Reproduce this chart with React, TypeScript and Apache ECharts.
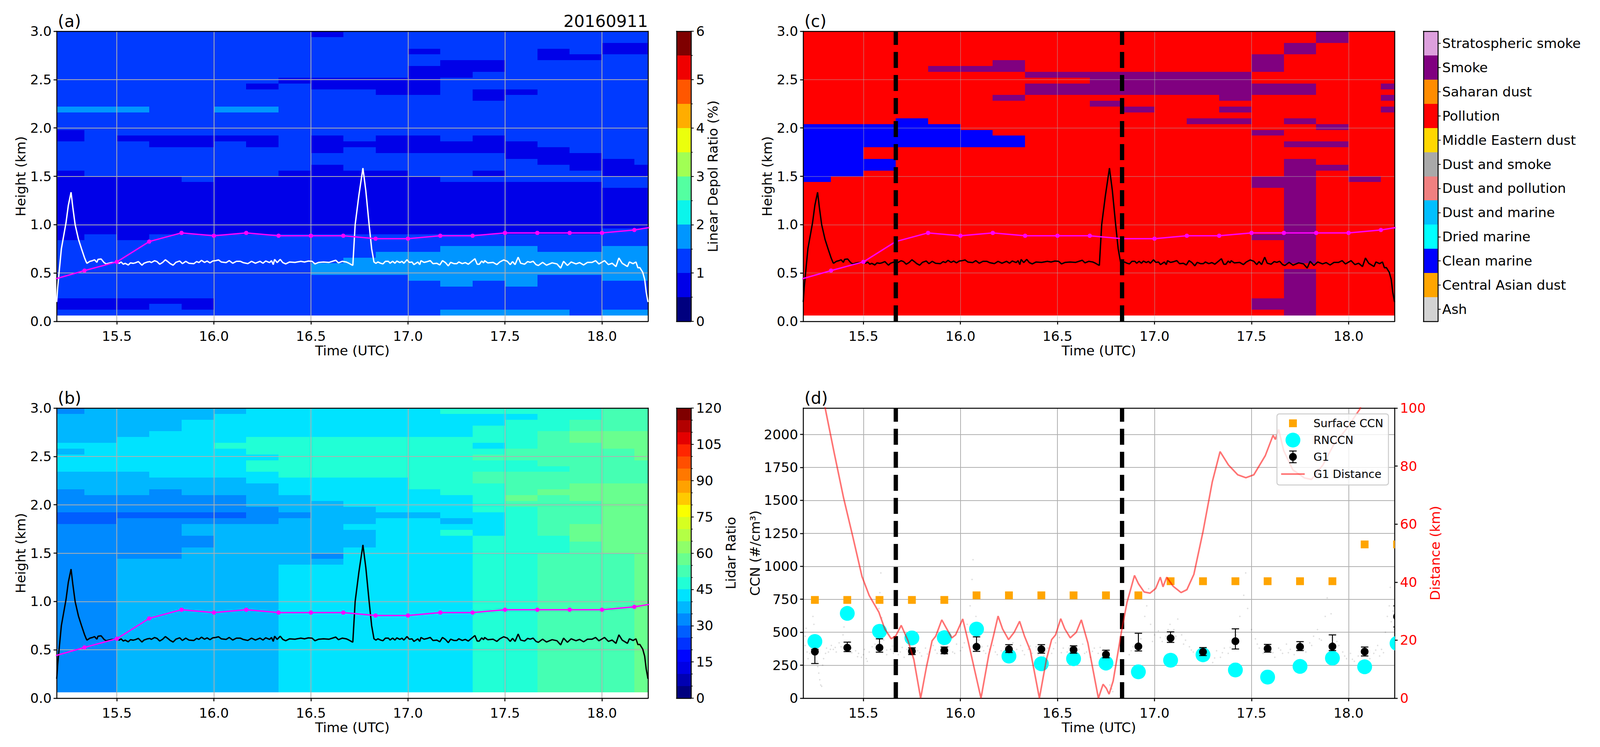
import React, { useEffect, useRef } from "react";
import * as echarts from "echarts";

const FONT = '"DejaVu Sans"';
const rep = (s: string, n: number): string[] => Array(n).fill(s);

// The browser window is 4096 px wide: horizontal layout of the 4205 px reference is fitted to it
const PAGE_W = 4096;
const PAGE_H = 1913;
const SX = PAGE_W / 4205;
const X = (px: number) => px * SX;

// Time-height curtain: 19 ten-minute columns, 49 height bins of 0.06 km (top row first)
const columnStart = [15.1667, 15.3333, 15.5, 15.6667, 15.8333, 16, 16.1667, 16.3333, 16.5, 16.6667, 16.8333, 17, 17.1667, 17.3333, 17.5, 17.6667, 17.8333, 18, 18.1667, 18.3333];
const heightTop = 3.0;
const heightStep = 0.06;

// Linear depol ratio, bin index of 0.5 % bins
const depolRows: string[] = [
  "2222222212222222222",
  "2222222222222222222",
  "2222222222222222211",
  "2222222222212221211",
  "2222222222222221122",
  "2222222222221122222",
  "2222222222211122222",
  "2222222222211222222",
  "2222222111112222222",
  "2222221211112222222",
  "2222222222112112222",
  "2222222222222122222",
  "2222222222222222222",
  "3332233222222222222",
  "2222222222222222222",
  "2222222222222222222",
  "2222222222222222222",
  "1222222222222222222",
  "1211111212112122222",
  "2221121211111112222",
  "2222222212111111222",
  "2222222222222211122",
  "2222222222222221112",
  "2222222212222222111",
  "1222222111122122211",
  "1111211111112222222",
  "1111111111111111122",
  ...rep("1111111111111111111", 7),
  "1111111111111111122",
  "1212222222222222222",
  "2222222222222222222",
  "2222222222223332233",
  "2222222222333333333",
  "2222222223333333333",
  "2222222233333333333",
  "2222222233333333333",
  "2222222222233332233",
  "2222222222223232222",
  "2222222222222222222",
  "2222222222222222222",
  "1111122222222222222",
  "1112122222222222222",
  "2222222222223333233",
];

// Lidar ratio, bin index of 5 sr bins (A = 10, B = 11)
const lidarRows: string[] = [
  "67777788888899999AA",
  "77777888888888899AA",
  "7777888888888899AAA",
  "7777888888888999AAA",
  "777888888888899ABBB",
  "778888999999999ABBB",
  "888889999999989AABB",
  "78888899999999AAAAB",
  "8888888999999AAAAAB",
  "888888999999999AAAA",
  "8888889999999999AAA",
  "7778888999999AAAAAA",
  "7777778888899AAAAAA",
  "77777778888999AABBB",
  "67767778888899ABBBB",
  "66666677888889BABBB",
  "66666677788889AAABB",
  "666666677788899AABB",
  "555555667777889AABB",
  "556666677788789AABB",
  "666677777888889ABBB",
  "666677777788989ABBB",
  "6666677777888999BBB",
  "6666677777888999ABB",
  "6666777778888999ABB",
  "666677776888899AAAB",
  "667777777888899AAAB",
  ...rep("667777788888899AAAB", 22),
];

// Aerosol type: P pollution, S smoke, M clean marine
const typeRows: string[] = [
  "PPPPPPPPPPPPPPPPSPP",
  "PPPPPPPPPPPPPPPPSPP",
  "PPPPPPPPPPPPPPPSPPP",
  "PPPPPPPPPPPPPPPSPPP",
  "PPPPPPPPPPPPPPSPPPP",
  "PPPPPPSPPPPPPPSPPPP",
  "PPPPSSSPPPPPPPSPPPP",
  "PPPPPPPSSSSSSSPPPPP",
  "PPPPPPPPPSSSSSPPPPP",
  "PPPPPPPSSSSSSSSSPPS",
  "PPPPPPPSSSSSSSSSPPP",
  "PPPPPPSPPPPPPSPPPPS",
  "PPPPPPPPPSPPPPPPPPP",
  "PPPPPPPPPPSPPSPPPPS",
  "PPPPPPPPPPPPPPPPPPP",
  "PPPMPPPPPPPPSSPSPPP",
  "MMMMMPPPPPPPPPPPSPP",
  "MMMMMMPPPPPPPPSPPPP",
  "MMMMMMMPPPPPPPPPPPP",
  "MMMMMMMPPPPPPPPSSPP",
  "MMPPPPPPPPPPPPPPPPP",
  "MMPPPPPPPPPPPPPPPPP",
  "MMMPPPPPPPPPPPPSPPP",
  "MMMPPPPPPPPPPPPSSPP",
  "MMPPPPPPPPPPPPPSPPP",
  "MPPPPPPPPPPPPPSSPSP",
  "PPPPPPPPPPPPPPSSPPP",
  ...rep("PPPPPPPPPPPPPPPSPPP", 8),
  "PPPPPPPPPPPPPPSSPPP",
  ...rep("PPPPPPPPPPPPPPPSPPP", 4),
  "PPPPPPPPPPPPPPPPPPP",
  ...rep("PPPPPPPPPPPPPPPSPPP", 5),
  "PPPPPPPPPPPPPPSSPPP",
  "PPPPPPPPPPPPPPSSPPP",
  "PPPPPPPPPPPPPPPSPPP",
];

const depolColors = ["#00007f", "#0000e8", "#003aff", "#0096ff", "#0bf5eb", "#54ffa1", "#a1ff54", "#ebff0c", "#ffad00", "#ff5700", "#f00000", "#7f0000"];
const lidarColors = ["#00007f", "#0000b2", "#0000e4", "#0005ff", "#0032ff", "#005eff", "#008aff", "#00b7ff", "#00e3ff", "#21ffd6", "#45ffb3", "#69ff8f", "#8fff69", "#b3ff45", "#d6ff21", "#faff00", "#ffca00", "#ffa200", "#ff7800", "#ff4f00", "#ff2600", "#e40000", "#b20000", "#7f0000"];
const typeNames = ["Ash", "Central Asian dust", "Clean marine", "Dried marine", "Dust and marine", "Dust and pollution", "Dust and smoke", "Middle Eastern dust", "Pollution", "Saharan dust", "Smoke", "Stratospheric smoke"];
const typeColors = ["#d3d3d3", "#ffa500", "#0000ff", "#00ffff", "#00bfff", "#f08080", "#a9a9a9", "#ffd700", "#ff0000", "#ff8c00", "#800080", "#dda0dd"];
const typeLetters: Record<string, number> = { P: 8, S: 10, M: 2 };

// Magenta height line
const pblTimes = [15.1667, 15.3333, 15.5, 15.6667, 15.8333, 16, 16.1667, 16.3333, 16.5, 16.6667, 16.8333, 17, 17.1667, 17.3333, 17.5, 17.6667, 17.8333, 18, 18.1667, 18.3333];
const pblHeights = [0.43, 0.525, 0.615, 0.825, 0.915, 0.885, 0.915, 0.885, 0.885, 0.885, 0.855, 0.855, 0.885, 0.885, 0.915, 0.915, 0.915, 0.915, 0.945, 1.0];

// Trace drawn white in (a), black in (b) and (c): [time, height]
const traceA: number[][] = [[15.19, 0.2], [15.195, 0.35], [15.214, 0.75], [15.238, 1.02], [15.25, 1.2], [15.264, 1.335], [15.273, 1.18], [15.285, 1.0], [15.302, 0.85], [15.318, 0.75], [15.333, 0.66], [15.342, 0.615],
  [15.346, 0.6], [15.361, 0.621], [15.375, 0.628], [15.385, 0.637], [15.397, 0.61], [15.403, 0.641], [15.419, 0.645], [15.434, 0.608], [15.445, 0.594], [15.458, 0.601], [15.473, 0.608], [15.487, 0.608], [15.5, 0.614], [15.512, 0.6], [15.522, 0.614], [15.533, 0.591], [15.543, 0.6], [15.559, 0.583], [15.57, 0.605], [15.585, 0.6], [15.595, 0.605], [15.611, 0.618], [15.629, 0.581], [15.64, 0.601], [15.658, 0.614], [15.67, 0.618], [15.677, 0.608], [15.694, 0.627], [15.707, 0.618], [15.721, 0.591], [15.736, 0.61], [15.75, 0.637], [15.765, 0.614], [15.775, 0.597], [15.79, 0.581], [15.804, 0.61], [15.824, 0.624], [15.838, 0.597], [15.855, 0.621], [15.872, 0.601], [15.897, 0.597], [15.911, 0.618], [15.923, 0.608], [15.936, 0.631], [15.952, 0.61], [15.965, 0.624], [15.98, 0.605], [15.994, 0.624], [16.009, 0.628], [16.024, 0.635], [16.038, 0.614], [16.063, 0.608], [16.079, 0.628], [16.097, 0.601], [16.116, 0.621], [16.136, 0.621], [16.15, 0.608], [16.175, 0.597], [16.194, 0.621], [16.214, 0.601], [16.238, 0.621], [16.253, 0.601], [16.267, 0.624], [16.287, 0.608], [16.297, 0.628], [16.306, 0.587], [16.313, 0.641], [16.326, 0.608], [16.342, 0.641], [16.355, 0.608], [16.37, 0.594], [16.39, 0.614], [16.418, 0.61], [16.448, 0.621], [16.467, 0.614], [16.487, 0.624], [16.506, 0.621], [16.521, 0.594], [16.54, 0.61], [16.565, 0.614], [16.594, 0.61], [16.628, 0.632], [16.642, 0.605], [16.662, 0.621], [16.682, 0.614], [16.696, 0.601], [16.713, 0.581]];
const traceB: number[][] = [[16.716, 0.58], [16.728, 1.0], [16.747, 1.3], [16.768, 1.585], [16.783, 1.35], [16.8, 1.0], [16.813, 0.75], [16.825, 0.614],
  [16.835, 0.6], [16.845, 0.614], [16.859, 0.601], [16.871, 0.594], [16.884, 0.621], [16.899, 0.621], [16.908, 0.601], [16.921, 0.621], [16.933, 0.601], [16.943, 0.624], [16.958, 0.608], [16.969, 0.621], [16.979, 0.601], [16.995, 0.637], [17.007, 0.61], [17.021, 0.614], [17.031, 0.587], [17.051, 0.614], [17.061, 0.587], [17.067, 0.628], [17.083, 0.61], [17.1, 0.618], [17.115, 0.628], [17.129, 0.597], [17.149, 0.601], [17.164, 0.583], [17.178, 0.628], [17.193, 0.608], [17.208, 0.574], [17.22, 0.61], [17.237, 0.597], [17.252, 0.597], [17.262, 0.614], [17.28, 0.597], [17.296, 0.608], [17.311, 0.591], [17.331, 0.624], [17.345, 0.648], [17.357, 0.591], [17.368, 0.591], [17.38, 0.624], [17.39, 0.605], [17.395, 0.628], [17.411, 0.605], [17.439, 0.61], [17.458, 0.587], [17.473, 0.614], [17.493, 0.635], [17.512, 0.621], [17.527, 0.587], [17.539, 0.618], [17.552, 0.587], [17.568, 0.664], [17.581, 0.601], [17.601, 0.591], [17.617, 0.618], [17.63, 0.61], [17.645, 0.621], [17.66, 0.587], [17.672, 0.578], [17.694, 0.61], [17.714, 0.581], [17.743, 0.605], [17.768, 0.594], [17.787, 0.551], [17.802, 0.621], [17.822, 0.578], [17.841, 0.614], [17.866, 0.594], [17.885, 0.608], [17.905, 0.583], [17.925, 0.61], [17.949, 0.61], [17.967, 0.628], [17.984, 0.594], [18.013, 0.628], [18.033, 0.587], [18.052, 0.601], [18.072, 0.567], [18.087, 0.655], [18.104, 0.601], [18.131, 0.567], [18.141, 0.614], [18.16, 0.597], [18.175, 0.614], [18.185, 0.554], [18.195, 0.556], [18.21, 0.507], [18.22, 0.433], [18.228, 0.3], [18.237, 0.2]];
const traceLine = [...traceA, ...traceB];

const transitionTimes = [15.667, 16.833];

// Panel (d)
const sampleTimes = [15.25, 15.417, 15.583, 15.75, 15.917, 16.083, 16.25, 16.417, 16.583, 16.75, 16.917, 17.083, 17.25, 17.417, 17.583, 17.75, 17.917, 18.083, 18.25];
const surfaceCcn = [745, 745, 745, 745, 745, 780, 780, 780, 780, 780, 780, 887, 887, 887, 887, 887, 887, 1166, 1166];
const rnccn = [430, 643, 507, 457, 459, 524, 319, 261, 299, 266, 200, 288, 329, 214, 160, 241, 304, 238, 416];
const g1Ccn = [353, 383, 383, 356, 362, 390, 371, 371, 367, 331, 392, 455, 351, 432, 376, 390, 392, 353, 619];
const g1Low = [263, 353, 349, 331, 337, 355, 346, 341, 341, 306, 358, 423, 323, 373, 349, 361, 361, 320, 540];
const g1High = [370, 425, 450, 382, 388, 465, 406, 406, 397, 364, 492, 503, 384, 526, 408, 429, 480, 388, 700];
const distanceLine: number[][] = [[15.29, 104], [15.303, 100], [15.35, 84.4], [15.398, 69], [15.445, 55.8], [15.493, 41.9], [15.53, 35.4], [15.58, 29.6], [15.61, 23.9], [15.643, 20.5], [15.666, 21.4], [15.695, 25.1], [15.73, 19.8], [15.76, 13.3], [15.795, 0], [15.825, 10.8], [15.854, 19.8], [15.873, 21.4], [15.904, 27], [15.923, 24.7], [15.956, 20.8], [15.975, 21.8], [16.012, 27.3], [16.039, 19.8], [16.106, 0], [16.146, 14.9], [16.17, 21.4], [16.194, 28.3], [16.217, 23.9], [16.248, 20.2], [16.277, 22.7], [16.305, 26.5], [16.33, 21.4], [16.36, 16.5], [16.407, 0], [16.443, 13.3], [16.47, 20.2], [16.49, 21.8], [16.517, 27.4], [16.538, 23.9], [16.566, 20.8], [16.597, 22.7], [16.623, 27], [16.657, 19], [16.711, 0], [16.735, 4.8], [16.752, 3.4], [16.766, 1.4], [16.787, 5.9], [16.83, 23], [16.858, 32.9], [16.897, 42.3], [16.918, 39.4], [16.947, 36.6], [16.977, 36.2], [17.006, 37.8], [17.03, 41.7], [17.044, 38.4], [17.063, 41.7], [17.096, 38.6], [17.137, 36.4], [17.167, 37.4], [17.203, 42.7], [17.25, 57.4], [17.298, 74.6], [17.338, 85], [17.381, 80.4], [17.429, 77], [17.471, 76], [17.512, 77], [17.571, 83.6], [17.611, 90.6], [17.623, 89.2], [17.64, 92.6], [17.666, 85.3], [17.713, 78.7], [17.773, 75.9], [17.809, 75.4], [17.868, 80.4], [17.923, 87.3], [17.987, 92.6], [18.058, 99.6], [18.07, 102]];
const ccnDots: number[][] = [[15.2, 400], [15.2, 470], [15.205, 530], [15.21, 350], [15.215, 300], [15.225, 340], [15.23, 410], [15.24, 620], [15.245, 560], [15.25, 330], [15.26, 280], [15.265, 240], [15.27, 190], [15.275, 140], [15.28, 100], [15.285, 90], [15.29, 250], [15.295, 300], [15.31, 380], [15.32, 350], [15.335, 400], [15.345, 370], [15.36, 350], [15.375, 420], [15.385, 390], [15.395, 480], [15.4, 540], [15.41, 600], [15.415, 650], [15.425, 430], [15.44, 380], [15.46, 360], [15.475, 340], [15.49, 310], [15.505, 370], [15.52, 280], [15.53, 350], [15.545, 390], [15.56, 410], [15.57, 520], [15.58, 680], [15.585, 800], [15.59, 950], [15.595, 610], [15.605, 440], [15.62, 330], [15.64, 370], [15.655, 340], [15.67, 390], [15.69, 350], [15.71, 310], [15.725, 370], [15.74, 400], [15.76, 330], [15.78, 360], [15.8, 320], [15.82, 380], [15.84, 350], [15.86, 400], [15.88, 340], [15.9, 370], [15.92, 330], [15.94, 390], [15.96, 350], [15.98, 410], [16, 360], [16.02, 420], [16.035, 560], [16.05, 700], [16.06, 900], [16.065, 1050], [16.07, 800], [16.08, 620], [16.095, 440], [16.11, 390], [16.13, 340], [16.15, 370], [16.17, 400], [16.19, 330], [16.21, 360], [16.23, 390], [16.25, 340], [16.27, 420], [16.29, 370], [16.31, 400], [16.33, 330], [16.35, 370], [16.37, 340], [16.39, 390], [16.41, 350], [16.43, 320], [16.45, 380], [16.47, 340], [16.49, 420], [16.51, 460], [16.53, 380], [16.55, 350], [16.57, 400], [16.59, 330], [16.61, 370], [16.63, 410], [16.65, 350], [16.67, 310], [16.69, 380], [16.71, 340], [16.73, 360], [16.755, 310], [16.77, 100], [16.78, 70], [16.785, 50], [16.87, 330], [16.89, 390], [16.91, 350], [16.93, 450], [16.95, 620], [16.96, 700], [16.97, 830], [16.98, 560], [17, 480], [17.02, 510], [17.04, 430], [17.06, 470], [17.08, 560], [17.1, 520], [17.12, 600], [17.14, 480], [17.16, 440], [17.18, 390], [17.2, 350], [17.22, 320], [17.24, 370], [17.26, 300], [17.28, 340], [17.3, 270], [17.32, 360], [17.34, 310], [17.36, 380], [17.38, 340], [17.4, 420], [17.42, 480], [17.44, 620], [17.46, 780], [17.47, 950], [17.48, 680], [17.5, 520], [17.52, 450], [17.54, 380], [17.56, 340], [17.58, 400], [17.6, 360], [17.62, 310], [17.64, 380], [17.66, 340], [17.68, 410], [17.7, 370], [17.72, 330], [17.74, 430], [17.76, 390], [17.78, 350], [17.8, 420], [17.82, 470], [17.84, 520], [17.86, 440], [17.88, 620], [17.89, 760], [17.9, 900], [17.91, 640], [17.93, 470], [17.95, 400], [17.97, 350], [17.99, 300], [18.01, 340], [18.03, 280], [18.05, 320], [18.07, 250], [18.09, 370], [18.11, 300], [18.13, 340], [18.15, 400], [18.17, 370], [18.19, 500], [18.2, 620], [18.21, 700], [18.215, 840], [18.22, 580], [18.23, 660], [18.235, 520],
  [15.305, 340], [15.33, 370], [15.355, 385], [15.44, 345], [15.47, 315], [15.5, 330], [15.515, 300], [15.62, 365], [15.65, 395], [15.68, 330], [15.7, 385], [15.73, 340], [15.77, 380], [15.79, 345], [15.83, 335], [15.87, 365], [15.91, 400], [15.93, 355], [15.97, 340], [16.01, 385], [16.12, 360], [16.14, 395], [16.18, 350], [16.22, 325], [16.24, 365], [16.28, 345], [16.32, 360], [16.36, 395], [16.4, 330], [16.44, 355], [16.48, 375], [16.52, 345], [16.56, 380], [16.6, 360], [16.64, 340], [16.68, 355], [16.72, 385], [16.88, 360], [16.92, 410], [16.99, 430], [17.03, 460], [17.07, 520], [17.11, 470], [17.15, 410], [17.19, 365], [17.23, 345], [17.27, 320], [17.31, 305], [17.35, 345], [17.39, 385], [17.53, 410], [17.57, 370], [17.61, 345], [17.65, 365], [17.69, 345], [17.73, 385], [17.77, 370], [17.81, 400], [17.85, 450], [17.94, 430], [17.98, 320], [18.02, 295], [18.06, 280], [18.1, 335], [18.14, 365], [18.16, 320], [18.18, 345]];

// Axis ticks
const timeTicks = [15.5, 16, 16.5, 17, 17.5, 18];
const ccnTicks = [0, 250, 500, 750, 1000, 1250, 1500, 1750, 2000];

const TICK = 8;
const AXIS_W = 2.5;
const labelStyle = { fontFamily: FONT, fontSize: 34.5, color: "#000" };

function cells(rows: string[], parse: (ch: string) => number) {
  const out: number[][] = [];
  rows.forEach((row, k) => {
    for (let c = 0; c < row.length; c++) {
      const top = heightTop - k * heightStep;
      out.push([columnStart[c], columnStart[c + 1], top - heightStep, top, parse(row[c])]);
    }
  });
  return out;
}

function rectSeries(data: number[][], colors: string[], xAxisIndex: number, yAxisIndex: number) {
  return {
    type: "custom", xAxisIndex, yAxisIndex, data, z: 2, silent: true, clip: true,
    encode: { x: [0, 1], y: [2, 3] },
    renderItem: (params: any, api: any) => {
      const a = api.coord([api.value(0), api.value(3)]);
      const b = api.coord([api.value(1), api.value(2)]);
      const cs = params.coordSys;
      const x0 = Math.round(Math.max(a[0], cs.x));
      const x1 = Math.round(Math.min(b[0], cs.x + cs.width));
      const y0 = Math.round(Math.max(a[1], cs.y));
      const y1 = Math.round(Math.min(b[1], cs.y + cs.height));
      return { type: "rect", shape: { x: x0, y: y0, width: x1 - x0, height: y1 - y0 }, style: { fill: colors[api.value(4)] } };
    },
  };
}

function markerSeries(kind: "circle" | "square", values: number[], size: number, color: string, x: number, y: number, z: number) {
  return {
    type: "custom", xAxisIndex: x, yAxisIndex: y, z, clip: true, silent: true,
    data: sampleTimes.map((t, i) => [t, values[i]]),
    encode: { x: 0, y: 1 },
    renderItem: (_p: any, api: any) => {
      const p = api.coord([api.value(0), api.value(1)]);
      if (kind === "circle") return { type: "circle", shape: { cx: p[0], cy: p[1], r: size / 2 }, style: { fill: color } };
      return { type: "rect", shape: { x: p[0] - size / 2, y: p[1] - size / 2, width: size, height: size }, style: { fill: color } };
    },
  };
}

function App() {
  const ref = useRef<HTMLDivElement>(null);
  useEffect(() => {
    const chart = echarts.init(ref.current!, undefined, { renderer: "svg" });
    const grid: any[] = [];
    const xAxis: any[] = [];
    const yAxis: any[] = [];
    const series: any[] = [];
    const rowA = { top: 80, height: 743 };
    const rowB = { top: 1045, height: 743 };

    const panel = (left: number, row: { top: number; height: number }, gridAlpha: number, onTop: boolean, y: any) => {
      const gridIndex = grid.length;
      grid.push({ left: X(left), top: row.top, width: X(1554), height: row.height });
      const line = { show: true, onZero: false, lineStyle: { color: "#000", width: AXIS_W } };
      const split = { show: true, lineStyle: { color: `rgba(176,176,176,${gridAlpha})`, width: 2 } };
      const xi = xAxis.length;
      xAxis.push({
        gridIndex, type: "value", min: 15.19, max: 18.237, position: "bottom", z: onTop ? 20 : 0,
        axisLine: line, axisTick: { show: true, length: TICK, customValues: timeTicks, lineStyle: { color: "#000", width: AXIS_W } },
        axisLabel: { ...labelStyle, margin: 20, customValues: timeTicks, formatter: (v: number) => v.toFixed(1) },
        splitLine: split, name: "Time (UTC)", nameLocation: "middle", nameGap: 57, nameTextStyle: labelStyle,
      });
      xAxis.push({ gridIndex, type: "value", min: 15.19, max: 18.237, position: "top", z: 21, axisLine: line, axisTick: { show: false }, axisLabel: { show: false }, splitLine: { show: false } });
      const yi = yAxis.length;
      yAxis.push({
        gridIndex, type: "value", position: "left", z: onTop ? 20 : 0,
        axisLine: line, axisTick: { show: true, length: TICK, lineStyle: { color: "#000", width: AXIS_W } },
        axisLabel: { ...labelStyle, margin: 13 }, splitLine: split,
        nameLocation: "middle", nameRotate: 90, nameTextStyle: labelStyle,
        ...y,
      });
      return { xi, yi, line, gridIndex };
    };

    const heightAxis = { min: 0, max: 3, interval: 0.5, name: "Height (km)", nameGap: 74.5, axisLabel: { ...labelStyle, margin: 13, formatter: (v: number) => v.toFixed(1) } };

    const closeRight = (p: any, min: number, max: number) => {
      yAxis.push({ gridIndex: p.gridIndex, type: "value", min, max, position: "right", z: 21, axisLine: p.line, axisTick: { show: false }, axisLabel: { show: false }, splitLine: { show: false } });
    };

    const heightLines = (p: any, traceColor: string) => {
      series.push({
        type: "line", xAxisIndex: p.xi, yAxisIndex: p.yi, data: traceLine, symbol: "none", z: 30, silent: true,
        lineStyle: { color: traceColor, width: 3.5 },
      });
      series.push({
        type: "line", xAxisIndex: p.xi, yAxisIndex: p.yi, data: pblTimes.map((t, i) => [t, pblHeights[i]]), z: 31, silent: true,
        symbol: "circle", symbolSize: 11, itemStyle: { color: "#ff00ff" }, lineStyle: { color: "#ff00ff", width: 3.5 },
      });
    };

    const dashes = (p: any, top: number) => {
      transitionTimes.forEach((t) => series.push({
        type: "line", xAxisIndex: p.xi, yAxisIndex: p.yi, data: [[t, 0], [t, top]], symbol: "none", z: 32, silent: true,
        lineStyle: { color: "#000", width: 11, type: [41, 18], cap: "butt" },
      }));
    };

    // Colour bars
    const colorbar = (left: number, row: { top: number; height: number }, colors: string[], max: number, y: any) => {
      const gridIndex = grid.length;
      grid.push({ left: X(left), top: row.top, width: X(38), height: row.height });
      const line = { show: true, onZero: false, lineStyle: { color: "#000", width: AXIS_W } };
      const xi = xAxis.length;
      xAxis.push({ gridIndex, type: "value", min: 0, max: 1, position: "bottom", z: 20, axisLine: line, axisTick: { show: false }, axisLabel: { show: false }, splitLine: { show: false } });
      xAxis.push({ gridIndex, type: "value", min: 0, max: 1, position: "top", z: 20, axisLine: line, axisTick: { show: false }, axisLabel: { show: false }, splitLine: { show: false } });
      const yi = yAxis.length;
      yAxis.push({
        gridIndex, type: "value", min: 0, max, position: "right", z: 20,
        axisLine: line, axisTick: { show: true, length: 7, lineStyle: { color: "#000", width: 2 } },
        axisLabel: { ...labelStyle, margin: 13 }, splitLine: { show: false },
        nameLocation: "middle", nameRotate: 90, nameTextStyle: labelStyle,
        ...y,
      });
      yAxis.push({ gridIndex, type: "value", min: 0, max, position: "left", z: 20, axisLine: line, axisTick: { show: false }, axisLabel: { show: false }, splitLine: { show: false } });
      const step = max / colors.length;
      series.push(rectSeries(colors.map((_, i) => [0, 1, i * step, (i + 1) * step, i]), colors, xi, yi));
    };

    // (a)
    const a = panel(149, rowA, 1, true, heightAxis);
    closeRight(a, 0, 3);
    series.push(rectSeries(cells(depolRows, (c) => parseInt(c, 36)), depolColors, a.xi, a.yi));
    heightLines(a, "#ffffff");
    colorbar(1778, rowA, depolColors, 6, {
      interval: 1, name: "Linear Depol Ratio (%)", nameGap: 37.5,
      minorTick: { show: true, splitNumber: 2, length: 4, lineStyle: { color: "#000", width: 2 } },
    });

    // (b)
    const b = panel(149, rowB, 1, true, heightAxis);
    closeRight(b, 0, 3);
    series.push(rectSeries(cells(lidarRows, (c) => parseInt(c, 36)), lidarColors, b.xi, b.yi));
    heightLines(b, "#000000");
    colorbar(1778, rowB, lidarColors, 120, {
      interval: 15, name: "Lidar Ratio", nameGap: 85,
      minorTick: { show: true, splitNumber: 3, length: 4, lineStyle: { color: "#000", width: 2 } },
    });

    // (c)
    const c = panel(2111, rowA, 0.45, true, heightAxis);
    closeRight(c, 0, 3);
    series.push(rectSeries(cells(typeRows, (ch) => typeLetters[ch]), typeColors, c.xi, c.yi));
    heightLines(c, "#000000");
    dashes(c, 3);
    const typeTicks = typeNames.map((_, i) => i + 0.5);
    colorbar(3741, rowA, typeColors, 12, {
      axisTick: { show: true, length: 7, customValues: typeTicks, lineStyle: { color: "#000", width: 2 } },
      axisLabel: { ...labelStyle, margin: 11, customValues: typeTicks, formatter: (v: number) => typeNames[Math.floor(v)] },
    });

    // (d)
    const d = panel(2111, rowB, 1, false, {
      min: 0, max: 2200, name: "CCN (#/cm³)", nameGap: 105.5,
      axisTick: { show: true, length: TICK, customValues: ccnTicks, lineStyle: { color: "#000", width: AXIS_W } },
      axisLabel: { ...labelStyle, margin: 13, customValues: ccnTicks, formatter: (v: number) => String(v) },
    });
    const dRight = yAxis.length;
    yAxis.push({
      gridIndex: d.gridIndex, type: "value", min: 0, max: 100, interval: 20, position: "right",
      axisLine: d.line, axisTick: { show: true, length: TICK, lineStyle: { color: "#000", width: AXIS_W } },
      axisLabel: { ...labelStyle, color: "#ff0000", margin: 14 }, splitLine: { show: false },
      name: "Distance (km)", nameLocation: "middle", nameRotate: 90, nameGap: 87, nameTextStyle: { ...labelStyle, color: "#ff0000" },
    });
    series.push({
      type: "scatter", xAxisIndex: d.xi, yAxisIndex: d.yi, data: ccnDots, symbolSize: 4, z: 1, silent: true,
      itemStyle: { color: "rgba(0,0,0,0.16)" },
    });
    series.push(markerSeries("circle", rnccn, 38, "#00ffff", d.xi, d.yi, 2));
    series.push({
      type: "custom", xAxisIndex: d.xi, yAxisIndex: d.yi, z: 3, clip: true, silent: true,
      data: sampleTimes.map((t, i) => [t, g1Low[i], g1High[i]]),
      encode: { x: 0, y: [1, 2] },
      renderItem: (_p: any, api: any) => {
        const lo = api.coord([api.value(0), api.value(1)]);
        const hi = api.coord([api.value(0), api.value(2)]);
        const style = { stroke: "#000", lineWidth: 2.5, fill: "none" };
        return {
          type: "group", children: [
            { type: "line", shape: { x1: lo[0], y1: lo[1], x2: hi[0], y2: hi[1] }, style },
            { type: "line", shape: { x1: lo[0] - 9.5, y1: lo[1], x2: lo[0] + 9.5, y2: lo[1] }, style },
            { type: "line", shape: { x1: hi[0] - 9.5, y1: hi[1], x2: hi[0] + 9.5, y2: hi[1] }, style },
          ],
        };
      },
    });
    series.push(markerSeries("circle", g1Ccn, 20, "#000000", d.xi, d.yi, 4));
    series.push(markerSeries("square", surfaceCcn, 20, "#ffa500", d.xi, d.yi, 4));
    dashes(d, 2200);
    series.push({
      type: "line", xAxisIndex: d.xi, yAxisIndex: dRight, data: distanceLine, symbol: "none", z: 40, silent: true,
      lineStyle: { color: "rgba(255,0,0,0.55)", width: 4 },
    });

    const title = (text: string, x: number, y: number, align = "left") => ({
      type: "text", x: X(x), y, z: 60, style: { text, fontFamily: FONT, fontSize: 42.5, fill: "#000", align, verticalAlign: "bottom" },
    });
    const legendText = (text: string, y: number) => ({
      type: "text", x: X(3452), y, z: 62, style: { text, fontFamily: FONT, fontSize: 28.5, fill: "#000", align: "left", verticalAlign: "middle" },
    });
    const legendIconX = X(3398);
    const elements: any[] = [
      title("(a)", 152, 76), title("20160911", 1703, 76, "right"), title("(c)", 2114, 76), title("(b)", 152, 1041), title("(d)", 2114, 1041),
      { type: "rect", z: 61, shape: { x: X(3356), y: 1060, width: X(293), height: 182, r: 6 }, style: { fill: "rgba(255,255,255,0.8)", stroke: "#cccccc", lineWidth: 2.5 } },
      { type: "rect", z: 62, shape: { x: legendIconX - 10, y: 1074, width: 20, height: 20 }, style: { fill: "#ffa500" } },
      { type: "circle", z: 62, shape: { cx: legendIconX, cy: 1127, r: 19 }, style: { fill: "#00ffff" } },
      { type: "line", z: 62, shape: { x1: legendIconX, y1: 1155, x2: legendIconX, y2: 1185 }, style: { stroke: "#000", lineWidth: 2.5 } },
      { type: "line", z: 62, shape: { x1: legendIconX - 9.5, y1: 1155, x2: legendIconX + 9.5, y2: 1155 }, style: { stroke: "#000", lineWidth: 2.5 } },
      { type: "line", z: 62, shape: { x1: legendIconX - 9.5, y1: 1185, x2: legendIconX + 9.5, y2: 1185 }, style: { stroke: "#000", lineWidth: 2.5 } },
      { type: "circle", z: 62, shape: { cx: legendIconX, cy: 1170, r: 10 }, style: { fill: "#000" } },
      { type: "line", z: 62, shape: { x1: X(3367), y1: 1214, x2: X(3429), y2: 1214 }, style: { stroke: "rgba(255,0,0,0.55)", lineWidth: 4 } },
      legendText("Surface CCN", 1084), legendText("RNCCN", 1127), legendText("G1", 1170), legendText("G1 Distance", 1214),
    ];

    chart.setOption({ animation: false, backgroundColor: "#ffffff", grid, xAxis, yAxis, series, graphic: { elements } });
    return () => chart.dispose();
  }, []);
  return <div ref={ref} style={{ position: "fixed", left: 0, top: 0, width: PAGE_W, height: PAGE_H }} />;
}

export default App;
